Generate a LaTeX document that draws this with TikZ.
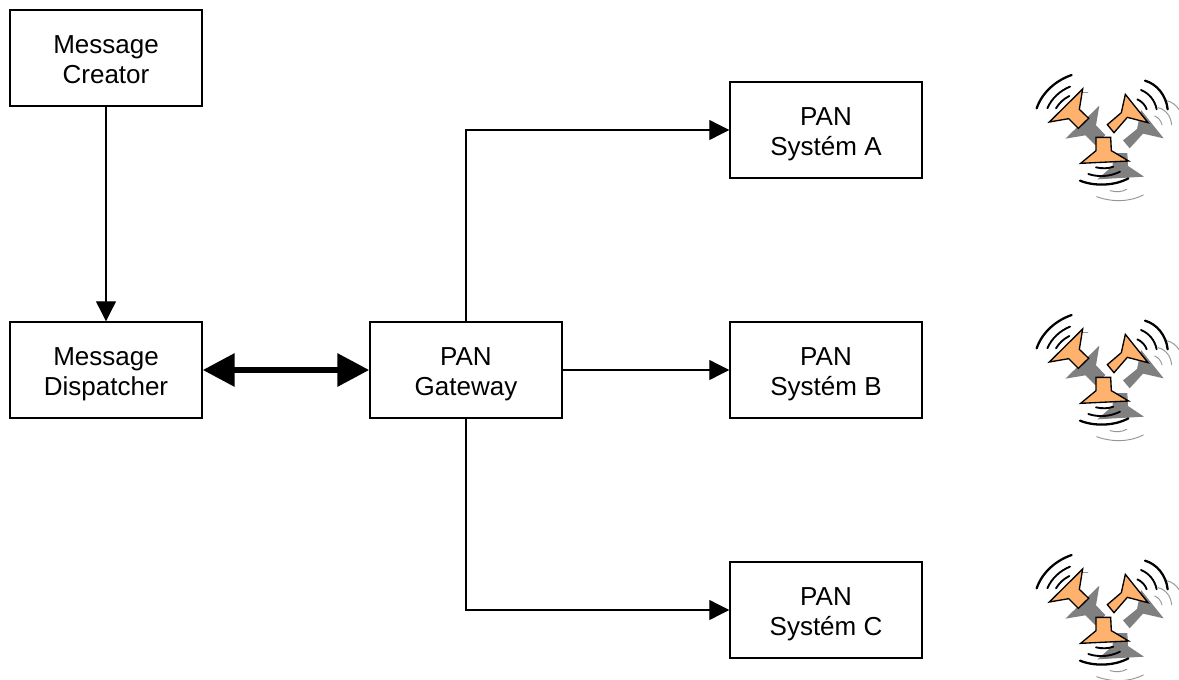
\documentclass[tikz,border=0pt]{standalone}
\usepackage{fontspec}
\setmainfont{Liberation Sans}
\usetikzlibrary{arrows.meta}
\newcommand{\twolines}[2]{\rule{0pt}{19.3pt}#1\\#2\rule[-4pt]{0pt}{4pt}}
\tikzset{
  box/.style={draw=black,line width=1.1pt,fill=white,minimum width=144pt,minimum height=72pt,inner sep=0pt,align=center,font=\fontsize{19.5}{22.6}\selectfont,text=black},
  link/.style={draw=black,line width=0.95pt,-{Triangle[length=15pt,width=15pt]}},
  biglink/.style={draw=black,line width=4.8pt,{Triangle[length=24pt,width=24pt]}-{Triangle[length=24pt,width=24pt]}},
  horn/.style={draw=black,line width=1pt,fill=hornc,line join=miter},
  shade/.style={fill=shadec,draw=none},
  wave/.style={draw=black,line width=1.7pt,line cap=round},
  wavemid/.style={draw=black,line width=1.4pt,line cap=round},
  ghost/.style={draw=ghostc,line width=0.7pt,line cap=round},
  pics/speakers/.style={code={
    \begin{scope}[x=0.25pt,y=-0.25pt]
      \path[shade] (238,137)--(228,196)--(256,225)--(225,255)--(196,226)--(136,236)--cycle;
      \path[shade] (363,150)--(431,235)--(369,221)--(329,265)--(309,241)--(351,207)--cycle;
      \path[shade] (278,279)--(322,279)--(324,318)--(372,350)--(232,358)--(278,318)--cycle;
      \draw[ghost] (415,143) .. controls (440,150) and (452,170) .. (455,194);
      \draw[ghost] (404,168) .. controls (415,172) and (423,182) .. (426,195);
      \draw[ghost] (440,122) .. controls (455,125) and (468,135) .. (478,150);
      \draw[ghost] (230,410) .. controls (280,428) and (330,425) .. (370,405);
      \draw[ghost] (270,392) .. controls (290,397) and (305,396) .. (320,388);
      \draw[ghost] (190,96) .. controls (195,95) and (198,95) .. (204,96);
      \draw[wave] (50,145) .. controls (65,100) and (105,62) .. (155,45);
      \draw[wavemid] (82,145) .. controls (95,115) and (120,92) .. (150,80);
      \draw[wavemid] (108,145) .. controls (117,130) and (130,117) .. (148,108);
      \draw[wave] (375,62) .. controls (410,72) and (438,105) .. (443,148);
      \draw[wavemid] (363,90) .. controls (388,100) and (405,122) .. (410,148);
      \draw[wavemid] (352,118) .. controls (365,124) and (376,135) .. (380,148);
      \draw[wavemid] (228,322) .. controls (245,326) and (265,326) .. (280,320);
      \draw[wavemid] (205,342) .. controls (235,352) and (270,350) .. (300,335);
      \draw[wave] (180,362) .. controls (225,380) and (285,377) .. (325,355);
      \draw[horn] (188,87)--(178,148)--(206,175)--(175,205)--(146,176)--(88,186)--cycle;
      \draw[horn] (316,103)--(384,188)--(322,172)--(282,218)--(262,194)--(304,158)--cycle;
      \draw[horn] (228,232)--(272,232)--(274,272)--(326,303)--(182,310)--(228,272)--cycle;
    \end{scope}
  }}
}
\definecolor{hornc}{RGB}{255,178,110}
\definecolor{shadec}{RGB}{128,128,128}
\definecolor{ghostc}{RGB}{150,150,150}
\begin{document}
\begin{tikzpicture}[x=0.75pt,y=-0.75pt]
  \useasboundingbox (0,0) rectangle (1179,679);
  \clip (0,0) rectangle (1179,679);
  \fill[white] (0,0) rectangle (1179,679);
  \node[box] (creator) at (106,58) {\twolines{Message}{Creator}};
  \node[box] (dispatcher) at (106,370) {\twolines{Message}{Dispatcher}};
  \node[box] (gateway) at (466,370) {\twolines{PAN}{Gateway}};
  \node[box] (sysa) at (826,130) {\twolines{PAN}{Systém A}};
  \node[box] (sysb) at (826,370) {\twolines{PAN}{Systém B}};
  \node[box] (sysc) at (826,610) {\twolines{PAN}{Systém C}};
  \draw[link] (creator) -- (dispatcher);
  \draw[biglink] (dispatcher) -- (gateway);
  \draw[link] (gateway.north) |- (sysa.west);
  \draw[link] (gateway) -- (sysb);
  \draw[link] (gateway.south) |- (sysc.west);
  \pic at (1020,60) {speakers};
  \pic at (1020,300) {speakers};
  \pic at (1020,540) {speakers};
\end{tikzpicture}
\end{document}
